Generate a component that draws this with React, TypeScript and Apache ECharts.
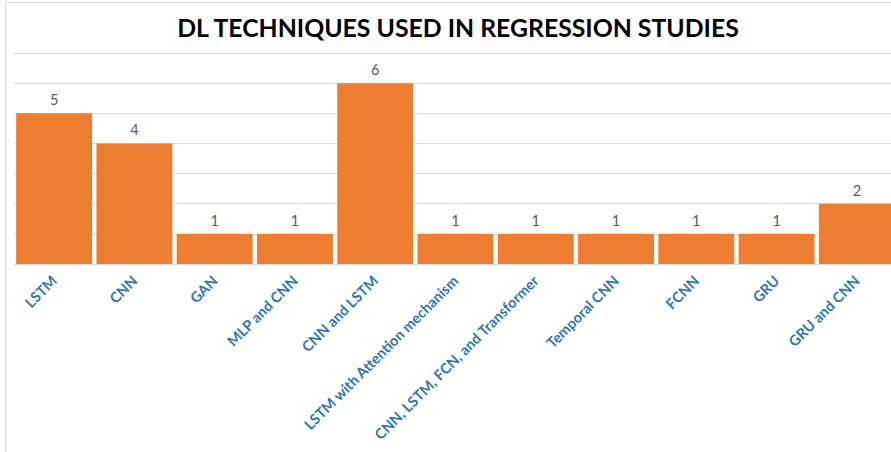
import React, { useEffect, useRef } from "react";
import * as echarts from "echarts";

const categories = [
  "LSTM",
  "CNN",
  "GAN",
  "MLP and CNN",
  "CNN and LSTM",
  "LSTM with Attention mechanism",
  "CNN, LSTM, FCN, and Transformer",
  "Temporal CNN",
  "FCNN",
  "GRU",
  "GRU and CNN",
];
const counts = [5, 4, 1, 1, 6, 1, 1, 1, 1, 1, 2];
const titleText = "DL TECHNIQUES USED IN REGRESSION STUDIES";

export default function App() {
  const ref = useRef<HTMLDivElement>(null);
  useEffect(() => {
    document.body.style.margin = "0";
    const chart = echarts.init(ref.current!, null, { renderer: "svg" });
    chart.setOption({
      animation: false,
      backgroundColor: "#ffffff",
      title: {
        text: titleText,
        left: 453,
        top: 10,
        textAlign: "center",
        textStyle: {
          fontFamily: "Lato",
          fontWeight: "bold",
          fontSize: 24.8,
          color: "#000000",
        },
      },
      graphic: [
        {
          type: "line",
          shape: { x1: 5.5, y1: 2.5, x2: 891, y2: 2.5 },
          style: { stroke: "#d9d9d9", lineWidth: 1 },
        },
        {
          type: "line",
          shape: { x1: 5.5, y1: 2.5, x2: 5.5, y2: 452 },
          style: { stroke: "#d9d9d9", lineWidth: 1 },
        },
      ],
      grid: {
        left: 14,
        top: 53,
        width: 883,
        height: 211,
        containLabel: false,
        outerBoundsMode: "none",
      },
      xAxis: {
        type: "category",
        data: categories,
        axisLine: { show: true, lineStyle: { color: "#d9d9d9", width: 1 } },
        axisTick: { show: false },
        axisLabel: {
          interval: 0,
          rotate: 45,
          margin: 14,
          color: "#2E75B6",
          fontFamily: "Lato",
          fontWeight: "bold",
          fontSize: 14.5,
        },
      },
      yAxis: {
        type: "value",
        min: 0,
        max: 7,
        interval: 1,
        axisLabel: { show: false },
        axisLine: { show: false },
        axisTick: { show: false },
        splitLine: { lineStyle: { color: "#d9d9d9", width: 1 } },
      },
      series: [
        {
          type: "bar",
          data: counts,
          barCategoryGap: "5.4%",
          itemStyle: { color: "#ED7D31" },
          label: {
            show: true,
            position: "top",
            distance: 6,
            color: "#595959",
            fontFamily: "Lato",
            fontSize: 14.5,
          },
        },
      ],
    });
    return () => chart.dispose();
  }, []);
  return <div ref={ref} style={{ width: 891, height: 452 }} />;
}
